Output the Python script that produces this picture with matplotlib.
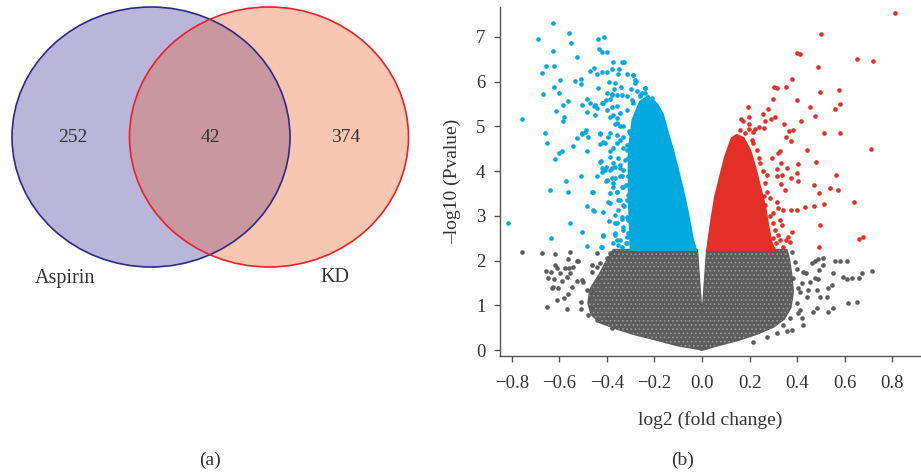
import matplotlib
matplotlib.use("Agg")
import matplotlib.pyplot as plt
from matplotlib.patches import Ellipse, Polygon

plt.rcParams["font.family"] = ["Liberation Serif", "DejaVu Serif"]
plt.rcParams["axes.unicode_minus"] = True
plt.rcParams["hatch.linewidth"] = 0.7

# ---- (a) venn counts
venn_names = ["Aspirin", "KD"]
venn_counts = [252, 42, 374]   # only Aspirin, both, only KD

# ---- (b) volcano, log2 fold change vs -log10 p
# dense cores (outline)
down_core = [(-0.300, 2.24), (-0.308, 3.36), (-0.308, 4.47), (-0.292, 5.15), (-0.261, 5.55),
             (-0.227, 5.68), (-0.189, 5.50), (-0.164, 5.26), (-0.143, 4.85), (-0.122, 4.47),
             (-0.101, 4.03), (-0.080, 3.58), (-0.059, 3.06), (-0.038, 2.46), (-0.025, 2.24)]
up_core = [(0.022, 2.24), (0.027, 2.46), (0.041, 2.98), (0.055, 3.43), (0.076, 3.88),
           (0.097, 4.32), (0.125, 4.74), (0.146, 4.81), (0.174, 4.74), (0.202, 4.47),
           (0.223, 4.10), (0.244, 3.65), (0.265, 3.21), (0.279, 2.76), (0.293, 2.38),
           (0.307, 2.24)]
ns_core = [(-0.372, 2.24), (-0.400, 2.00), (-0.430, 1.70), (-0.470, 1.35), (-0.478, 1.05),
           (-0.465, 0.80), (-0.430, 0.62), (-0.360, 0.48), (-0.290, 0.36), (-0.200, 0.24),
           (-0.100, 0.10), (-0.021, 0.03), (0.0, 0.0), (0.063, 0.10), (0.150, 0.22),
           (0.230, 0.36), (0.300, 0.52), (0.345, 0.70), (0.372, 0.95), (0.382, 1.30),
           (0.375, 1.70), (0.365, 2.05), (0.355, 2.24), (0.021, 2.24), (0.0, 0.67),
           (-0.021, 2.24)]

# scattered genes outside the cores
down_pts = [(-0.625, 7.32), (-0.559, 7.08), (-0.690, 6.95), (-0.552, 6.86), (-0.625, 6.69),
            (-0.438, 6.95), (-0.412, 6.99), (-0.431, 6.73), (-0.421, 6.66), (-0.398, 6.67),
            (-0.524, 6.55), (-0.373, 6.44), (-0.337, 6.45), (-0.328, 6.44), (-0.654, 6.35),
            (-0.622, 6.35), (-0.672, 6.20), (-0.471, 6.23), (-0.453, 6.30), (-0.442, 6.17),
            (-0.421, 6.21), (-0.400, 6.22), (-0.379, 6.28), (-0.354, 6.17), (-0.347, 6.28),
            (-0.597, 6.03), (-0.534, 6.02), (-0.510, 6.06), (-0.510, 5.94), (-0.436, 5.85),
            (-0.621, 5.88), (-0.600, 5.75), (-0.669, 5.72), (-0.391, 6.00), (-0.366, 5.97),
            (-0.370, 5.83), (-0.340, 5.89), (-0.316, 6.17), (-0.289, 6.14), (-0.277, 6.02),
            (-0.282, 5.97), (-0.300, 5.84), (-0.274, 5.79), (-0.398, 5.74), (-0.379, 5.73),
            (-0.358, 5.70), (-0.482, 5.62), (-0.562, 5.57), (-0.585, 5.48), (-0.613, 5.35),
            (-0.579, 5.22), (-0.583, 5.11), (-0.758, 5.16), (-0.471, 5.52), (-0.454, 5.46),
            (-0.442, 5.41), (-0.421, 5.52), (-0.403, 5.59), (-0.387, 5.61), (-0.379, 5.43),
            (-0.356, 5.46), (-0.400, 5.37), (-0.505, 5.47), (-0.482, 5.33), (-0.451, 5.26),
            (-0.660, 4.85), (-0.505, 4.85), (-0.487, 4.91), (-0.387, 5.22), (-0.358, 5.18),
            (-0.366, 5.06), (-0.345, 5.00), (-0.316, 5.67), (-0.295, 5.59), (-0.261, 5.67),
            (-0.239, 5.85), (-0.253, 5.74), (-0.290, 6.15), (-0.282, 6.04), (-0.239, 5.86),
            (-0.210, 5.64),
            (-0.505, 4.83), (-0.492, 4.88), (-0.653, 4.64), (-0.543, 4.56),
            (-0.527, 4.74), (-0.478, 4.76), (-0.429, 4.83), (-0.415, 4.66), (-0.387, 4.85),
            (-0.358, 4.81), (-0.600, 4.41), (-0.590, 4.46), (-0.618, 4.26), (-0.482, 4.46),
            (-0.424, 4.23), (-0.429, 4.61), (-0.387, 4.44), (-0.358, 4.62), (-0.331, 4.77),
            (-0.316, 4.59), (-0.421, 4.06), (-0.403, 4.10), (-0.387, 4.03), (-0.373, 4.18),
            (-0.366, 4.10), (-0.345, 4.14), (-0.331, 4.03), (-0.571, 3.79), (-0.510, 3.89),
            (-0.442, 3.89), (-0.421, 3.97), (-0.403, 3.79), (-0.379, 3.84), (-0.373, 3.73),
            (-0.345, 3.88), (-0.639, 3.57), (-0.564, 3.53), (-0.461, 3.53), (-0.387, 3.50),
            (-0.358, 3.54), (-0.337, 3.65), (-0.345, 3.36), (-0.310, 3.47), (-0.394, 3.30),
            (-0.482, 3.21), (-0.454, 3.11), (-0.415, 3.09), (-0.352, 3.13), (-0.328, 3.21),
            (-0.391, 2.89), (-0.366, 2.83), (-0.337, 2.92), (-0.815, 2.84), (-0.553, 2.83),
            (-0.505, 2.63), (-0.636, 2.51), (-0.415, 2.56), (-0.366, 2.57), (-0.358, 2.46),
            (-0.484, 2.33), (-0.424, 2.31), (-0.331, 2.68), (-0.316, 2.52), (-0.352, 2.35),
            (-0.320, 2.40), (-0.310, 2.90), (-0.318, 3.70), (-0.312, 4.30), (-0.305, 4.90),
            # band next to the core
            (-0.450, 5.48), (-0.415, 5.52), (-0.379, 5.70), (-0.337, 5.70), (-0.373, 5.26),
            (-0.345, 5.29), (-0.359, 5.07), (-0.331, 5.00), (-0.429, 4.85), (-0.394, 4.77),
            (-0.407, 4.62), (-0.373, 4.51), (-0.345, 4.70), (-0.331, 4.51), (-0.387, 4.32),
            (-0.352, 4.29), (-0.429, 4.21), (-0.407, 4.03), (-0.379, 4.06), (-0.345, 4.06),
            (-0.324, 4.25), (-0.400, 3.80), (-0.366, 3.84), (-0.337, 3.88), (-0.373, 3.65),
            (-0.457, 3.54), (-0.359, 3.54), (-0.331, 3.65), (-0.387, 3.28), (-0.352, 3.36),
            (-0.331, 3.24), (-0.457, 3.13), (-0.366, 3.02), (-0.337, 2.98), (-0.359, 2.83),
            (-0.331, 2.76), (-0.415, 2.57), (-0.366, 2.61), (-0.345, 2.46), (-0.373, 2.39),
            (-0.421, 2.31), (-0.337, 2.31), (-0.317, 2.39), (-0.310, 2.61), (-0.317, 2.98),
            (-0.317, 3.36), (-0.310, 3.88), (-0.317, 4.47), (-0.303, 4.85), (-0.317, 5.37),
            (-0.289, 5.52), (-0.261, 5.70), (-0.239, 5.74)]

up_pts = [(0.810, 7.53), (0.500, 7.07), (0.399, 6.65), (0.410, 6.61), (0.650, 6.50),
          (0.717, 6.47), (0.487, 6.32), (0.378, 6.06), (0.301, 5.89), (0.314, 5.85),
          (0.353, 5.87), (0.494, 5.76), (0.574, 5.82), (0.297, 5.61), (0.399, 5.58),
          (0.192, 5.43), (0.277, 5.38), (0.452, 5.44), (0.580, 5.50), (0.559, 5.38),
          (0.258, 5.27), (0.197, 5.21), (0.165, 5.17), (0.172, 5.11), (0.196, 5.06),
          (0.289, 5.17), (0.305, 5.20), (0.266, 5.13), (0.475, 5.23), (0.415, 5.11),
          (0.346, 5.06), (0.241, 4.98), (0.259, 4.97), (0.221, 4.95), (0.197, 4.94),
          (0.161, 4.91), (0.179, 4.86), (0.216, 4.88), (0.366, 4.90), (0.384, 4.93),
          (0.513, 4.85), (0.580, 4.85),
          (0.352, 4.76), (0.374, 4.68), (0.440, 4.47), (0.328, 4.46), (0.710, 4.49),
          (0.318, 4.40), (0.293, 4.30), (0.479, 4.21), (0.405, 4.15), (0.332, 4.18),
          (0.316, 4.04), (0.356, 4.06), (0.398, 3.95), (0.335, 3.91), (0.314, 3.88),
          (0.373, 3.85), (0.402, 3.79), (0.562, 3.91), (0.332, 3.71), (0.472, 3.69),
          (0.272, 3.91), (0.265, 3.73), (0.349, 3.58), (0.493, 3.50), (0.538, 3.62),
          (0.570, 3.58), (0.272, 3.54), (0.286, 3.39), (0.640, 3.32), (0.514, 3.27),
          (0.472, 3.22), (0.434, 3.19), (0.314, 3.30), (0.321, 3.17), (0.342, 3.12),
          (0.374, 3.13), (0.398, 3.12), (0.265, 3.24), (0.300, 3.06), (0.328, 2.91),
          (0.335, 2.80), (0.377, 2.63), (0.363, 2.53), (0.352, 2.46), (0.370, 2.42),
          (0.496, 2.80), (0.661, 2.48), (0.678, 2.52), (0.493, 2.31), (0.321, 2.57),
          (0.300, 2.50), (0.244, 4.18), (0.230, 4.47), (0.216, 4.62), (0.307, 2.68),
          (0.328, 2.46), (0.342, 2.31), (0.255, 4.00), (0.262, 3.45), (0.285, 3.00),
          (0.300, 2.85), (0.310, 2.40), (0.240, 4.30), (0.210, 4.70)]

ns_pts = [(-0.755, 2.19), (-0.674, 2.16), (-0.618, 2.14), (-0.555, 2.19), (-0.527, 1.99),
          (-0.562, 2.04), (-0.657, 1.77), (-0.636, 1.74), (-0.618, 1.89), (-0.611, 1.84),
          (-0.646, 1.60), (-0.622, 1.59), (-0.625, 1.42), (-0.604, 1.38), (-0.632, 1.39),
          (-0.590, 1.54), (-0.569, 1.64), (-0.555, 1.72), (-0.548, 1.42), (-0.524, 1.54),
          (-0.505, 1.57), (-0.541, 1.86), (-0.520, 1.98), (-0.559, 1.83), (-0.653, 0.97),
          (-0.611, 1.12), (-0.580, 1.16), (-0.562, 1.25), (-0.566, 0.92), (-0.508, 1.07),
          (-0.508, 0.91), (-0.478, 0.78), (-0.463, 0.95), (-0.471, 1.16), (-0.463, 1.75),
          (-0.442, 1.86), (-0.429, 1.94), (-0.463, 1.90), (-0.400, 2.05), (-0.387, 2.16),
          (-0.484, 1.34), (-0.457, 1.30), (-0.499, 1.53), (-0.436, 1.57), (-0.424, 1.45),
          (-0.597, 1.72), (-0.576, 1.83), (-0.442, 2.16), (-0.440, 0.66), (-0.380, 0.50),
          (0.378, 2.20), (0.391, 1.96), (0.461, 1.94), (0.475, 1.99), (0.489, 2.04),
          (0.507, 2.05), (0.559, 1.99), (0.580, 1.99), (0.608, 2.00), (0.493, 1.79),
          (0.510, 1.89), (0.716, 1.77), (0.671, 1.72), (0.661, 1.60), (0.629, 1.62),
          (0.608, 1.58), (0.594, 1.64), (0.552, 1.72), (0.475, 1.60), (0.489, 1.58),
          (0.454, 1.53), (0.426, 1.74), (0.437, 1.72), (0.405, 1.39), (0.419, 1.49),
          (0.447, 1.34), (0.482, 1.34), (0.496, 1.19), (0.524, 1.19), (0.531, 1.38),
          (0.545, 1.45), (0.650, 1.07), (0.615, 1.04), (0.552, 0.93), (0.531, 0.86),
          (0.482, 0.93), (0.468, 0.86), (0.440, 1.19), (0.405, 0.82), (0.419, 0.71),
          (0.426, 0.56), (0.377, 0.45), (0.356, 0.43), (0.412, 0.89), (0.398, 1.04),
          (0.384, 1.60), (0.398, 1.82), (0.412, 1.30), (0.370, 0.71), (0.342, 0.56),
          (0.314, 0.39), (0.272, 0.28), (0.216, 0.19)]

x_ticks = [-0.8, -0.6, -0.4, -0.2, 0.0, 0.2, 0.4, 0.6, 0.8]
y_ticks = [0, 1, 2, 3, 4, 5, 6, 7]

c_down = "#00a9e0"
c_up = "#e32f25"
c_ns = "#5c5c5c"
txt = "#333333"

fig = plt.figure(figsize=(9.21, 4.74), dpi=100)

# ---------- (a) venn
ax0 = fig.add_axes([0, 0, 440 / 921, 1])
ax0.set_xlim(0, 440)
ax0.set_ylim(474, 0)
ax0.axis("off")
left = Ellipse((151, 137), 278, 260, facecolor="#b9b6da", edgecolor="none")
right = Ellipse((269, 137), 279, 260, facecolor="#f9c7b1", edgecolor="none")
ax0.add_patch(left)
ax0.add_patch(right)
both = Ellipse((269, 137), 279, 260, facecolor="#c9979f", edgecolor="none")
ax0.add_patch(both)
both.set_clip_path(left)
ax0.add_patch(Ellipse((151, 137), 278, 260, fill=False, edgecolor="#2e2a88", lw=1.2))
ax0.add_patch(Ellipse((269, 137), 279, 260, fill=False, edgecolor="#e8212b", lw=1.2))
for xx, n in zip([73, 210, 346], venn_counts):
    ax0.text(xx, 137, str(n), ha="center", va="center", fontsize=14, color=txt)
ax0.text(65, 278, venn_names[0], ha="center", va="center", fontsize=14.5, color=txt)
ax0.text(335, 278, venn_names[1], ha="center", va="center", fontsize=14.5, color=txt)
ax0.text(210, 460, "(a)", ha="center", va="center", fontsize=14, color=txt)

# ---------- (b) volcano
ax = fig.add_axes([500 / 921, 118 / 474, 421 / 921, 349 / 474])
ax.add_patch(Polygon(ns_core, closed=True, facecolor=c_ns, edgecolor=c_ns, lw=1.5))
ax.add_patch(Polygon(ns_core, closed=True, facecolor="none", edgecolor="#9a9a9a",
                     hatch="....", lw=0))
ax.add_patch(Polygon(down_core, closed=True, facecolor=c_down, edgecolor=c_down, lw=1.5))
ax.add_patch(Polygon(up_core, closed=True, facecolor=c_up, edgecolor=c_up, lw=1.5))
for pts, col in [(ns_pts, c_ns), (down_pts, c_down), (up_pts, c_up)]:
    xs, ys = zip(*pts)
    ax.scatter(xs, ys, s=11, color=col, linewidths=0)

ax.set_xlim(-0.849, 0.92)
ax.set_ylim(-0.134, 7.67)
ax.set_xticks(x_ticks)
ax.set_yticks(y_ticks)
ax.set_xticklabels([f"{v:.1f}".replace("-", "\u2212") for v in x_ticks])
ax.spines["top"].set_visible(False)
ax.spines["right"].set_visible(False)
for s in ["left", "bottom"]:
    ax.spines[s].set_color("#555555")
    ax.spines[s].set_linewidth(1.0)
ax.tick_params(direction="out", length=4.5, width=1.0, color="#555555",
               labelsize=13.5, labelcolor=txt, pad=6)
ax.tick_params(axis="x", pad=9)
ax.set_xlabel("log2 (fold change)", fontsize=14, color=txt, labelpad=14)
ax.set_ylabel("\u2013log10 (Pvalue)", fontsize=14, color=txt, labelpad=11)
fig.text(683 / 921, 1 - 460 / 474, "(b)", ha="center", va="center", fontsize=14, color=txt)

fig.savefig("out.png", dpi=100)
